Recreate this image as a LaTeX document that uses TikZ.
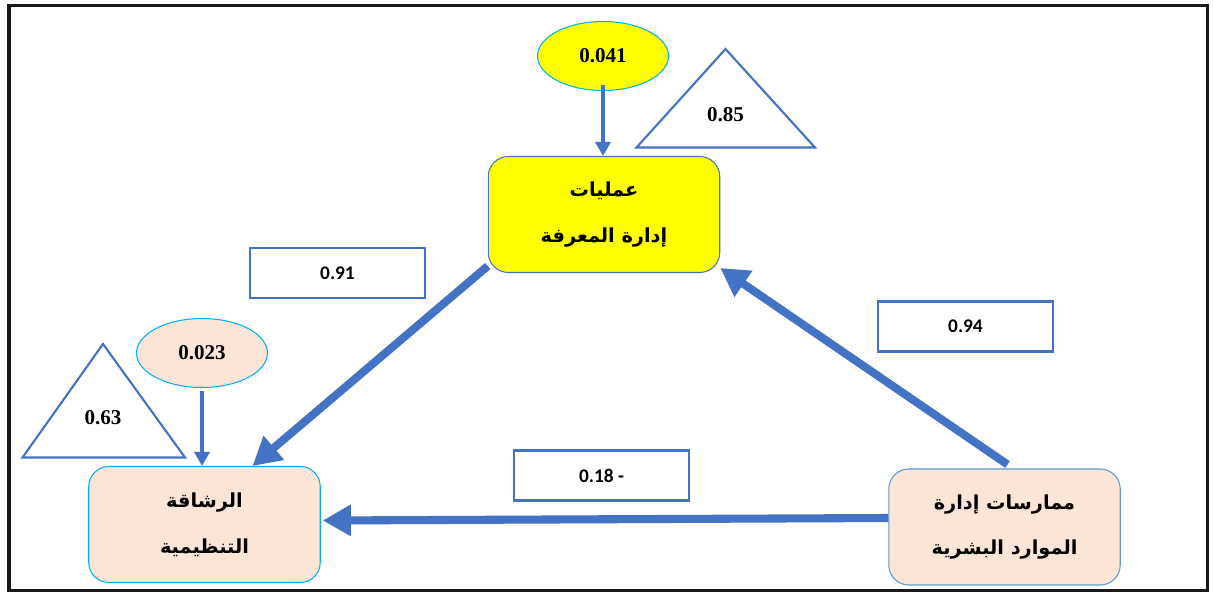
\documentclass[tikz,border=0pt]{standalone}
\usepackage{fontspec}
\setmainfont{Carlito}
\newfontfamily\arabicfont[Script=Arabic]{DejaVu Sans}
\newfontfamily\chiffres{Liberation Serif}
\TeXXeTstate=1
\usetikzlibrary{arrows.meta, shapes.geometric, calc}

\definecolor{bleu}{HTML}{4472C4}
\definecolor{bleuclair}{HTML}{5B9BD5}
\definecolor{ciel}{HTML}{00B0F0}
\definecolor{peche}{HTML}{FBE5D6}
\definecolor{jaune}{HTML}{FFFF00}

\begin{document}
\begin{tikzpicture}[
  x=0.02cm, y=-0.02cm,
  bloc/.style={
    draw=bleu, line width=0.6pt, rounded corners=0.4cm,
    align=center, minimum width=4.63cm, minimum height=2.32cm,
    font=\arabicfont\bfseries\fontsize{11}{13}\selectfont, text=black
  },
  coef/.style={
    draw=bleu, line width=1.2pt, minimum width=3.5cm, minimum height=1cm,
    font=\bfseries\fontsize{11}{13}\selectfont, text=black
  },
  erreur/.style={
    ellipse, draw=ciel, line width=0.6pt, minimum width=2.62cm, minimum height=1.38cm,
    font=\chiffres\bfseries\fontsize{12}{14}\selectfont, text=black
  },
  tri/.style={draw=bleu, line width=1.2pt},
  valeur/.style={font=\chiffres\bfseries\fontsize{12}{14}\selectfont, text=black},
  fleche/.style={
    -{Triangle[length=16pt, width=17pt]},
    line width=4.6pt, draw=bleu
  },
  fine/.style={
    -{Triangle[length=8pt, width=8.5pt]},
    line width=2pt, draw=bleu
  }
]
  \useasboundingbox (0,0) rectangle (1213,592);
  \draw[line width=2pt, black!90] (9,5.5) rectangle (1207.5,590.5);

  % Variables
  \node[bloc, fill=jaune] (km) at (604,214.5)
    {\beginR عمليات\endR\\[13pt]\beginR إدارة المعرفة\endR};
  \node[bloc, fill=peche, draw=ciel] (ag) at (204.5,524.5)
    {\beginR الرشاقة\endR\\[13pt]\beginR التنظيمية\endR};
  \node[bloc, fill=peche, draw=bleuclair] (hr) at (1004.5,527)
    {\beginR ممارسات إدارة\endR\\[13pt]\beginR الموارد البشرية\endR};

  % Erreurs
  \node[erreur, fill=jaune] (e1) at (603,56) {0.041};
  \node[erreur, fill=peche] (e2) at (202,353) {0.023};

  % R2
  \draw[tri] (725.5,49) -- (815,147.5) -- (636.5,147.5) -- cycle;
  \node[valeur] (r1) at (725.5,115) {0.85};
  \draw[tri] (103,344) -- (185,457.5) -- (22.5,457.5) -- cycle;
  \node[valeur] (r2) at (103,418) {0.63};

  % Coefficients
  \node[coef] (c1) at (337.5,273) {0.91};
  \node[coef] (c2) at (965.5,326.5) {0.94};
  \node[coef] (c3) at (601.5,475.5) {0.18 -};

  \draw[fine] ($(e1.south)+(0,-6)$) -- (e1.south |- km.north);
  \draw[fine] ($(e2.south)+(0,3)$) -- (e2.south |- ag.north);
  \draw[fleche] ($(km.south west)+(0,-7)$) -- ($(ag.north)+(48,0)$);
  \draw[fleche] ($(hr.north)+(3,-4)$) -- ($(km.south east)+(0,-5)$);
  \draw[fleche] ($(hr.west)+(0,-9)$) -- ($(ag.east)+(2,-4)$);

\end{tikzpicture}
\end{document}
